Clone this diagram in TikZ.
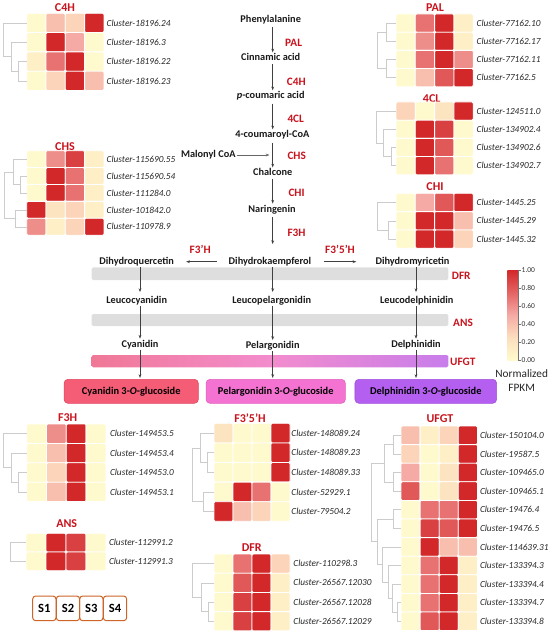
\documentclass[tikz,border=0pt]{standalone}
\usepackage{fontspec}
\setmainfont{Carlito}
\usetikzlibrary{arrows.meta}
\definecolor{h0}{RGB}{255,250,205}
\definecolor{h1}{RGB}{254,239,199}
\definecolor{h2}{RGB}{253,228,193}
\definecolor{h3}{RGB}{251,212,185}
\definecolor{h4}{RGB}{248,191,175}
\definecolor{h5}{RGB}{245,170,165}
\definecolor{h6}{RGB}{238,142,139}
\definecolor{h7}{RGB}{231,114,113}
\definecolor{h8}{RGB}{224,88,88}
\definecolor{h9}{RGB}{217,64,65}
\definecolor{h10}{RGB}{210,40,42}
\definecolor{hq}{RGB}{252,222,190}
\definecolor{ht}{RGB}{228,100,100}
\definecolor{enz}{RGB}{200,20,30}
\definecolor{sorange}{RGB}{205,100,40}
\definecolor{cyaf}{RGB}{245,92,118}
\definecolor{cyad}{RGB}{225,70,95}
\definecolor{pelf}{RGB}{244,115,210}
\definecolor{peld}{RGB}{225,95,190}
\definecolor{delf}{RGB}{180,95,240}
\definecolor{deld}{RGB}{160,80,220}
\definecolor{ul}{RGB}{240,120,150}
\definecolor{um}{RGB}{243,140,205}
\definecolor{ur}{RGB}{200,125,235}
\pgfdeclarehorizontalshading{ufgtshade}{100bp}{color(0bp)=(ul); color(25bp)=(ul); color(50bp)=(um); color(75bp)=(ur); color(100bp)=(ur)}
\pgfdeclareverticalshading{hmshade}{100bp}{color(0bp)=(h0); color(25bp)=(h0); color(37.5bp)=(hq); color(50bp)=(h5); color(62.5bp)=(ht); color(75bp)=(h10); color(100bp)=(h10)}
\tikzset{
 cell/.style={draw=white, line width=0.8pt, rounded corners=1.2pt},
 lab/.style={anchor=west, inner sep=0.5pt, font=\fontsize{9.3}{10}\selectfont\itshape, text=black!85},
 ttl/.style={inner sep=0.5pt, font=\fontsize{12}{13}\selectfont\bfseries, text=enz},
 enzl/.style={anchor=west, inner sep=0pt, font=\fontsize{11.3}{12}\selectfont\bfseries, text=enz},
 cmp/.style={inner sep=1pt, font=\fontsize{10.3}{11}\selectfont\bfseries, text=black!90},
 arr/.style={-{Stealth[length=3.8pt,width=2.8pt]}, line width=0.6pt, draw=black!75},
 dg/.style={draw=black!20, line width=0.6pt},
 band/.style={fill=black!13, rounded corners=1.5pt},
 prod/.style={rounded corners=4pt, minimum height=24pt, inner sep=0pt, font=\fontsize{10.4}{11}\selectfont\bfseries, line width=0.6pt},
 sbox/.style={draw=sorange, line width=1pt, rounded corners=3pt, minimum width=23.3pt, minimum height=24.7pt, inner sep=0pt, font=\fontsize{12.6}{13}\selectfont\bfseries},
 tick/.style={anchor=west, inner sep=0.5pt, font=\fontsize{7.5}{8}\selectfont, text=black!80},
 legt/.style={inner sep=0.5pt, font=\fontsize{11.3}{12}\selectfont, text=black!85},
}
\newcommand\hrow[7]{%
  \foreach \v [count=\i from 0] in {#3,#4,#5,#6}{%
    \path[cell, fill=h\v] ({\hx+\i*\hw},#2) rectangle ++(\hw,\hh);}%
  \node[lab] (#1) at (\hl,{#2+0.5*\hh}) {#7};}
\begin{document}
\begin{tikzpicture}[x=1pt,y=-1pt]
\useasboundingbox (0,0) rectangle (550,636);
% ---------- C4H ----------
\node[ttl] (tc4h) at (65,8) {C4H};
\def\hx{26.7}\def\hw{19.3}\def\hh{19.3}\def\hl{106}
\hrow{c4ha}{13.3}{0}{4}{3}{10}{Cluster-18196.24}
\hrow{c4hb}{32.6}{0}{10}{5}{0}{Cluster-18196.3}
\hrow{c4hc}{51.9}{1}{7}{10}{0}{Cluster-18196.22}
\hrow{c4hd}{71.2}{0}{3}{10}{4}{Cluster-18196.23}
\draw[dg] (26.7,61.6) -| (18,80.9) -- (26.7,80.9);
\draw[dg] (26.7,42.3) -| (11,71.25) -- (18,71.25);
\draw[dg] (26.7,23) -| (3.3,56.8) -- (11,56.8);
% ---------- CHS ----------
\node[ttl] (tchs) at (65,146.7) {CHS};
\def\hx{26.7}\def\hw{19.3}\def\hh{16.9}\def\hl{106}
\hrow{chsa}{150.7}{0}{6}{9}{1}{Cluster-115690.55}
\hrow{chsb}{167.6}{0}{10}{7}{1}{Cluster-115690.54}
\hrow{chsc}{184.5}{0}{10}{7}{1}{Cluster-111284.0}
\hrow{chsd}{201.4}{10}{2}{3}{1}{Cluster-101842.0}
\hrow{chse}{218.3}{6}{1}{3}{10}{Cluster-110978.9}
\draw[dg] (26.7,176.1) -| (20,193) -- (26.7,193);
\draw[dg] (26.7,159.2) -| (13,184.55) -- (20,184.55);
\draw[dg] (26.7,209.9) -| (15,226.8) -- (26.7,226.8);
\draw[dg] (13,171.9) -| (4,218.35) -- (15,218.35);
% ---------- PAL ----------
\node[ttl] (tpal) at (435,8) {PAL};
\def\hx{396}\def\hw{19.3}\def\hh{18.2}\def\hl{476}
\hrow{pala}{14}{0}{7}{10}{1}{Cluster-77162.10}
\hrow{palb}{32.2}{0}{6}{10}{1}{Cluster-77162.17}
\hrow{palc}{50.4}{0}{7}{10}{6}{Cluster-77162.11}
\hrow{pald}{68.6}{0}{4}{8}{10}{Cluster-77162.5}
\draw[dg] (396,23.1) -| (386,41.3) -- (396,41.3);
\draw[dg] (396,59.5) -| (386,77.7) -- (396,77.7);
\draw[dg] (386,32.2) -| (377,68.6) -- (386,68.6);
% ---------- 4CL ----------
\node[ttl] (t4cl) at (431.7,98.3) {4CL};
\def\hh{18.2}
\hrow{cla}{102}{3}{0}{2}{10}{Cluster-124511.0}
\hrow{clb}{120.2}{0}{10}{9}{0}{Cluster-134902.4}
\hrow{clc}{138.4}{0}{10}{8}{0}{Cluster-134902.6}
\hrow{cld}{156.6}{0}{10}{7}{0}{Cluster-134902.7}
\draw[dg] (396,147.5) -| (391,165.7) -- (396,165.7);
\draw[dg] (396,129.3) -| (383,156.6) -- (391,156.6);
\draw[dg] (396,111.1) -| (376,142.95) -- (383,142.95);
% ---------- CHI ----------
\node[ttl] (tchi) at (435,186.7) {CHI};
\def\hh{18.3}
\hrow{chia}{193.3}{0}{5}{8}{10}{Cluster-1445.25}
\hrow{chib}{211.6}{0}{10}{10}{4}{Cluster-1445.29}
\hrow{chic}{229.9}{0}{10}{10}{3}{Cluster-1445.32}
\draw[dg] (396,220.8) -| (388,239) -- (396,239);
\draw[dg] (396,202.5) -| (377,229.9) -- (388,229.9);
% ---------- F3H ----------
\node[ttl] (tf3h) at (67.7,417.3) {F3H};
\def\hx{26.7}\def\hw{19.8}\def\hh{19.4}\def\hl{109.3}
\hrow{f3ha}{424}{0}{6}{10}{0}{Cluster-149453.5}
\hrow{f3hb}{443.4}{0}{4}{10}{0}{Cluster-149453.4}
\hrow{f3hc}{462.8}{0}{3}{10}{0}{Cluster-149453.0}
\hrow{f3hd}{482.2}{0}{4}{10}{0}{Cluster-149453.1}
\draw[dg] (26.7,472.5) -| (18,491.9) -- (26.7,491.9);
\draw[dg] (26.7,453.1) -| (11,482.2) -- (18,482.2);
\draw[dg] (26.7,433.7) -| (3.3,467.65) -- (11,467.65);
% ---------- ANS ----------
\node[ttl] (tans) at (66.7,524) {ANS};
\def\hx{26}\def\hw{20}\def\hh{18.7}\def\hl{108.3}
\hrow{ansa}{533.3}{0}{10}{9}{0}{Cluster-112991.2}
\hrow{ansb}{552}{0}{10}{9}{0}{Cluster-112991.3}
\draw[dg] (26,542.7) -| (10,561.4) -- (26,561.4);
% ---------- F3'5'H ----------
\node[ttl] (tf35h) at (250,418.3) {F3'5'H};
\def\hx{214}\def\hw{19}\def\hh{19.6}\def\hl{290.7}
\hrow{fxa}{423.3}{2}{0}{0}{10}{Cluster-148089.24}
\hrow{fxb}{442.9}{0}{0}{0}{10}{Cluster-148089.23}
\hrow{fxc}{462.5}{0}{0}{0}{10}{Cluster-148089.33}
\hrow{fxd}{482.1}{0}{10}{7}{0}{Cluster-52929.1}
\hrow{fxe}{501.7}{10}{4}{3}{0}{Cluster-79504.2}
\draw[dg] (214,452.7) -| (207,472.3) -- (214,472.3);
\draw[dg] (214,433.1) -| (200,462.5) -- (207,462.5);
\draw[dg] (214,491.9) -| (203,511.5) -- (214,511.5);
\draw[dg] (200,447.8) -| (192,501.7) -- (203,501.7);
% ---------- DFR ----------
\node[ttl] (tdfr) at (251.7,547.3) {DFR};
\def\hx{214}\def\hw{19}\def\hh{19.2}\def\hl{292.7}
\hrow{dfra}{554}{0}{7}{10}{3}{Cluster-110298.3}
\hrow{dfrb}{573.2}{0}{8}{10}{1}{Cluster-26567.12030}
\hrow{dfrc}{592.4}{0}{9}{10}{1}{Cluster-26567.12028}
\hrow{dfrd}{611.6}{0}{9}{10}{1}{Cluster-26567.12029}
\draw[dg] (214,602) -| (208,621.2) -- (214,621.2);
\draw[dg] (214,582.8) -| (201,611.6) -- (208,611.6);
\draw[dg] (214,563.6) -| (192,597.2) -- (201,597.2);
% ---------- UFGT ----------
\node[ttl] (tufgt) at (440,418.3) {UFGT};
\def\hx{401}\def\hw{19.1}\def\hh{18.6}\def\hl{479.3}
\hrow{ua}{426}{4}{1}{3}{10}{Cluster-150104.0}
\hrow{ub}{444.6}{3}{0}{1}{10}{Cluster-19587.5}
\hrow{uc}{463.2}{5}{0}{2}{10}{Cluster-109465.0}
\hrow{ud}{481.8}{8}{0}{2}{10}{Cluster-109465.1}
\hrow{ue}{500.4}{0}{7}{7}{10}{Cluster-19476.4}
\hrow{uf}{519}{0}{9}{8}{10}{Cluster-19476.5}
\hrow{ug}{537.6}{0}{10}{4}{4}{Cluster-114639.31}
\hrow{uh}{556.2}{0}{7}{10}{1}{Cluster-133394.3}
\hrow{ui}{574.8}{0}{7}{10}{1}{Cluster-133394.4}
\hrow{uj}{593.4}{0}{7}{10}{1}{Cluster-133394.7}
\hrow{uk}{612}{0}{8}{10}{1}{Cluster-133394.8}
\draw[dg] (401,435.3) -| (393,453.9) -- (401,453.9);
\draw[dg] (401,472.5) -| (393,491.1) -- (401,491.1);
\draw[dg] (393,444.6) -| (384,481.8) -- (393,481.8);
\draw[dg] (401,509.7) -| (393,528.3) -- (401,528.3);
\draw[dg] (401,602.7) -| (397,621.3) -- (401,621.3);
\draw[dg] (401,584.1) -| (392,612) -- (397,612);
\draw[dg] (401,565.5) -| (388,598.05) -- (392,598.05);
\draw[dg] (401,546.9) -| (382,581.8) -- (388,581.8);
\draw[dg] (393,519) -| (377,564.35) -- (382,564.35);
\draw[dg] (384,463.2) -| (371,541.7) -- (377,541.7);
% ---------- bands ----------
\fill[band] (91.7,267.3) rectangle (448.3,280);
\fill[band] (91.7,314) rectangle (448.3,326);
\shade[shading=ufgtshade, rounded corners=1.5pt] (91.7,355) rectangle (448.3,367.3);
% ---------- pathway ----------
\coordinate (ax) at (272.7,0);
\coordinate (lx) at (140,0);
\coordinate (rx) at (416,0);
\coordinate (malend) at (269.5,0);
\node[cmp] (phe) at (270.7,19.3) {Phenylalanine};
\node[cmp] (cin) at (270.7,57.3) {Cinnamic acid};
\node[cmp] (pcou) at (270.7,96) {\textit{p}-coumaric acid};
\node[cmp] (cou) at (272.3,135) {4-coumaroyl-CoA};
\node[cmp] (mal) at (208.3,155) {Malonyl CoA};
\node[cmp] (chal) at (272.7,172.3) {Chalcone};
\node[cmp] (nar) at (272,209.3) {Naringenin};
\node[cmp] (dhk) at (270,261.7) {Dihydrokaempferol};
\node[cmp] (dhq) at (136.7,261.7) {Dihydroquercetin};
\node[cmp] (dhm) at (412.5,261.7) {Dihydromyricetin};
\node[cmp] (lcy) at (136.7,300.7) {Leucocyanidin};
\node[cmp] (lpe) at (271.7,300.7) {Leucopelargonidin};
\node[cmp] (lde) at (416.7,300.7) {Leucodelphinidin};
\node[cmp] (cya) at (140,344.3) {Cyanidin};
\node[cmp] (pel) at (272.7,345.7) {Pelargonidin};
\node[cmp] (del) at (416,344.3) {Delphinidin};
\node[prod, fill=cyaf, draw=cyad, minimum width=134.3pt] (cyag) at (131.2,391.3) {Cyanidin 3-\textit{O}-glucoside};
\node[prod, fill=pelf, draw=peld, minimum width=139.3pt] (pelg) at (275.7,391.3) {Pelargonidin 3-\textit{O}-glucoside};
\node[prod, fill=delf, draw=deld, minimum width=141.7pt] (delg) at (425.8,391.3) {Delphinidin 3-\textit{O}-glucoside};
% arrows
\draw[arr, shorten <=2pt] (phe.south -| ax) -- (cin.north -| ax);
\draw[arr, shorten <=2pt] (cin.south -| ax) -- (pcou.north -| ax);
\draw[arr, shorten <=2pt] (pcou.south -| ax) -- (cou.north -| ax);
\draw[arr, shorten <=2pt] (cou.south -| ax) -- (chal.north -| ax);
\draw[arr, shorten <=2pt] (chal.south -| ax) -- (nar.north -| ax);
\draw[arr, shorten <=2pt, shorten >=12pt] (nar.south -| ax) -- (dhk.north -| ax);
\draw[arr, draw=black!60] (mal.east) -- (mal.east -| malend);
\draw[arr, shorten <=11pt, shorten >=11pt] (dhk.west) -- (dhq.east);
\draw[arr, shorten <=12pt, shorten >=18pt] (dhk.east) -- (dhm.west);
\draw[arr, shorten >=3pt] (dhq.south -| lx) -- (lcy.north -| lx);
\draw[arr, shorten >=3pt] (dhk.south -| ax) -- (lpe.north -| ax);
\draw[arr, shorten >=3pt] (dhm.south -| rx) -- (lde.north -| rx);
\draw[arr] (lcy.south -| lx) -- (cya.north -| lx);
\draw[arr] (lpe.south -| ax) -- (pel.north -| ax);
\draw[arr] (lde.south -| rx) -- (del.north -| rx);
\draw[arr, shorten >=1pt] (cya.south -| lx) -- (cyag.north -| lx);
\draw[arr, shorten >=1pt] (pel.south -| ax) -- (pelg.north -| ax);
\draw[arr, shorten >=1pt] (del.south -| rx) -- (delg.north -| rx);
% enzyme labels
\node[enzl] (ePAL) at (285,43.3) {PAL};
\node[enzl] (eC4H) at (286.7,81.7) {C4H};
\node[enzl] (e4CL) at (287.3,119.3) {4CL};
\node[enzl] (eCHS) at (287.3,156) {CHS};
\node[enzl] (eCHI) at (288.3,192.7) {CHI};
\node[enzl] (eF3H) at (287.3,232.7) {F3H};
\node[enzl] (eF3pH) at (189.5,249) {F3'H};
\node[enzl] (eF35H) at (325,249) {F3'5'H};
\node[enzl] (eDFR) at (451.7,276) {DFR};
\node[enzl] (eANS) at (453,322.7) {ANS};
\node[enzl] (eUFGT) at (450,361.7) {UFGT};
% ---------- legend ----------
\shade[shading=hmshade] (507.3,270) rectangle (518.3,360);
\draw[black!55, line width=0.4pt] (518.3,270) -- (518.3,360);
\foreach \yy/\tt/\nm in {270/1.00/ta,288/0.80/tb,306/0.60/tc,324/0.40/td,342/0.20/te,360/0.00/tf}{
  \draw[black!55, line width=0.4pt] (518.3,\yy) -- (520.8,\yy);
  \node[tick] (\nm) at (521,\yy) {\tt};
}
\node[legt] (nrm) at (521.7,374) {Normalized};
\node[legt] (fpkm) at (521.7,388) {FPKM};
% ---------- sample boxes ----------
\node[sbox] (s1) at (44.35,608.35) {S1};
\node[sbox] (s2) at (68,608.35) {S2};
\node[sbox] (s3) at (91.35,608.35) {S3};
\node[sbox] (s4) at (115,608.35) {S4};
\end{tikzpicture}
\end{document}
